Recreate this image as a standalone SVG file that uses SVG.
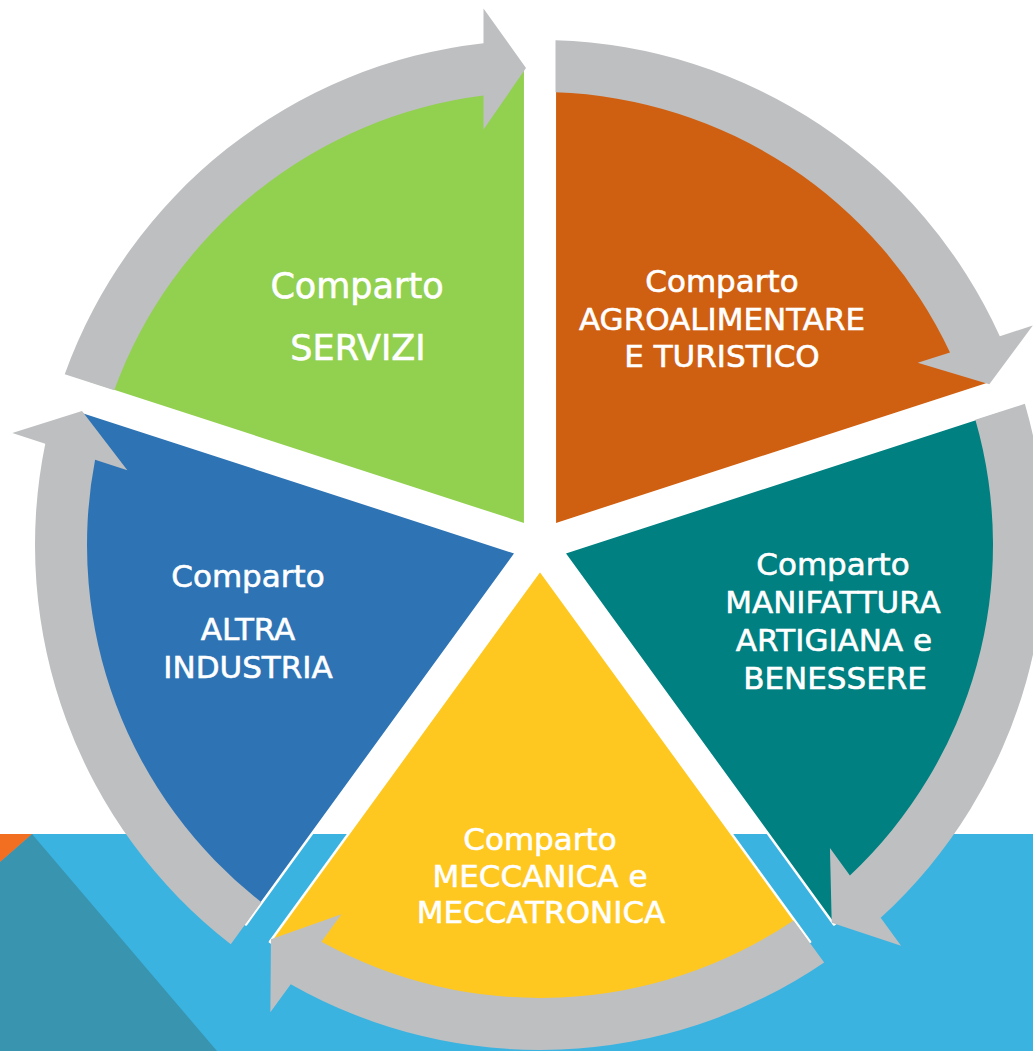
<svg xmlns="http://www.w3.org/2000/svg" width="1033" height="1051" viewBox="0 0 1033 1051">
<style>
.w{stroke:#fff;stroke-width:2.5;stroke-linejoin:round}
.t{font-family:"DejaVu Sans","Liberation Sans",sans-serif;fill:#fff;stroke:#fff;stroke-width:0.6;text-anchor:middle;font-size:31px}
.big{font-size:35px}
.arr{fill:#BEBFC1}
</style>
<g id="background">
<rect x="0" y="0" width="1033" height="1051" fill="#fff"/>
<rect x="0" y="834" width="1033" height="217" fill="#3BB3E0"/>
<polygon points="0,862 32,834 217,1051 0,1051" fill="#3994B0"/>
<polygon points="0,834 32,834 0,862" fill="#F26F21"/>
</g>
<g id="node-servizi">
<path class="w" fill="#92D050" d="M525.19,524.61 L88.28,382.66 A480,480 0 0 1 525.2,65.23 Z"/>
<text class="t big" x="357" y="298">Comparto</text>
<text class="t big" x="358" y="360">SERVIZI</text>
</g>
<g id="node-agroalimentare">
<path class="w" fill="#D06011" d="M554.81,524.61 L554.8,65.23 A480,480 0 0 1 991.72,382.66 Z"/>
<text class="t" x="722" y="292">Comparto</text>
<text class="t" x="722" y="330">AGROALIMENTARE</text>
<text class="t" x="722" y="367">E TURISTICO</text>
</g>
<g id="node-manifattura">
<path class="w" fill="#008080" d="M563.97,552.79 L1000.86,410.82 A480,480 0 0 1 833.98,924.44 Z"/>
<text class="t" x="833" y="575">Comparto</text>
<text class="t" x="833" y="613">MANIFATTURA</text>
<text class="t" x="834" y="651">ARTIGIANA e</text>
<text class="t" x="835" y="689">BENESSERE</text>
</g>
<g id="node-meccanica">
<path class="w" fill="#FFC820" d="M540,570.2 L810.04,941.84 A480,480 0 0 1 269.96,941.84 Z"/>
<text class="t" x="540" y="850">Comparto</text>
<text class="t" x="540" y="887">MECCANICA e</text>
<text class="t" x="541" y="923">MECCATRONICA</text>
</g>
<g id="node-altra-industria">
<path class="w" fill="#2E74B5" d="M516.03,552.79 L246.02,924.44 A480,480 0 0 1 79.14,410.82 Z"/>
<text class="t" x="248" y="587">Comparto</text>
<text class="t" x="248" y="640">ALTRA</text>
<text class="t" x="248" y="678">INDUSTRIA</text>
</g>
<g id="connectors">
<path class="arr" d="M555.5,92.27 L555.5,40.24 A505,505 0 0 1 999.81,336.19 L1032.78,325.48 L989.33,384.29 L917.71,362.87 L950,352.38 A453,453 0 0 0 555.5,92.27 Z"/>
<path class="arr" d="M975.36,419.84 L1024.85,403.76 A505,505 0 0 1 880.68,917.78 L901.06,945.83 L831.71,922.67 L829.94,847.94 L849.9,875.42 A453,453 0 0 0 975.36,419.84 Z"/>
<path class="arr" d="M793.57,920.38 L824.15,962.47 A505,505 0 0 1 290.74,984.2 L270.36,1012.25 L270.95,939.13 L341.48,914.36 L321.52,941.84 A453,453 0 0 0 793.57,920.38 Z"/>
<path class="arr" d="M261.35,902.16 L230.77,944.25 A505,505 0 0 1 45.27,443.65 L12.3,432.94 L82.01,410.91 L127.37,470.33 L95.08,459.84 A453,453 0 0 0 261.35,902.16 Z"/>
<path class="arr" d="M114.22,390.36 L64.73,374.28 A505,505 0 0 1 483.5,43.17 L483.5,8.5 L526,68 L483.5,129.5 L483.5,95.54 A453,453 0 0 0 114.22,390.36 Z"/>
</g>
</svg>
